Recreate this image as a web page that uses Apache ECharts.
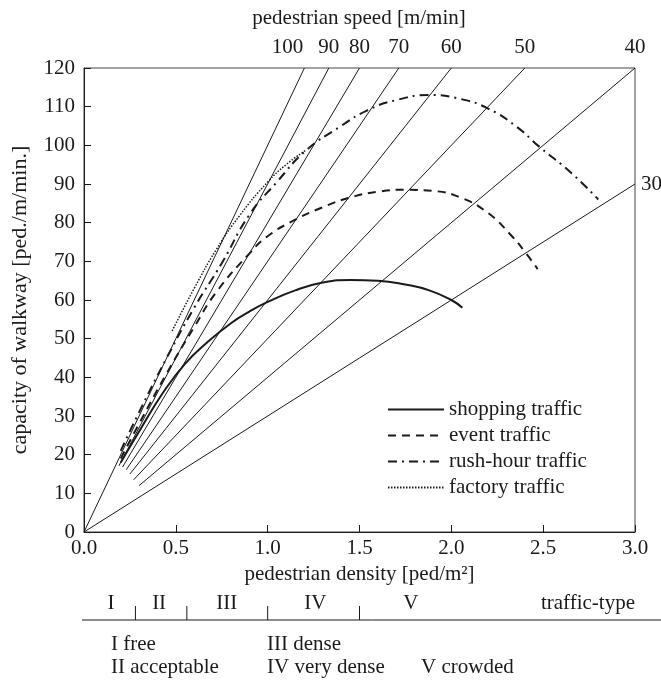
<!DOCTYPE html>
<html><head><meta charset="utf-8">
<script src="https://cdn.jsdelivr.net/npm/echarts@6/dist/echarts.min.js"></script>
<style>html,body{margin:0;padding:0;background:#fff}#c{width:661px;height:681px}</style>
</head><body><div id="c"></div>
<script>
// ---- data ----
const speeds = [100, 90, 80, 70, 60, 50, 40, 30];
const speedLineStart = [[0,0],[0.19,17.1],[0.21,16.8],[0.23,16.1],[0.25,15],[0.27,13.5],[0.30,12],[0,0]];
const speedLineEnd = [[1.2,120],[1.333,120],[1.5,120],[1.714,120],[2.0,120],[2.4,120],[3.0,120],[3.0,90]];

const shoppingDensity = [0.2,0.3,0.43,0.55,0.67,0.8,0.9,1.0,1.15,1.3,1.45,1.6,1.75,1.88,2.0,2.06];
const shoppingCapacity = [18,26,36,43.5,49,54,57,59.5,62.5,64.5,65.2,65,64,62.5,60,58];

const eventDensity = [0.2,0.3,0.45,0.6,0.72,0.9,1.0,1.14,1.3,1.45,1.6,1.75,1.9,2.05,2.2,2.32,2.4,2.47];
const eventCapacity = [19,28,41,53,62,72,76.5,80.5,84,86.5,88,88.5,88.2,86.5,82.5,77,72.5,68];

const rushDensity = [0.2,0.3,0.45,0.6,0.75,0.9,1.05,1.21,1.4,1.54,1.7,1.88,2.05,2.2,2.35,2.48,2.65,2.8];
const rushCapacity = [21,31,45,58,69.5,82,90.5,98.7,105,109,111.7,113,112,109.5,105,99.6,93,86];

const factoryDensity = [0.48,0.6,0.72,0.85,1.0,1.1,1.21];
const factoryCapacity = [52,63,73,82,90.5,95,98.8];

const classBounds = [0.28, 0.56, 1.0, 1.5];
const classNames = ['I','II','III','IV','V'];
const classPos = [0.147, 0.409, 0.777, 1.26, 1.78];
const classLegend = [['I free','II acceptable'],['III dense','IV very dense'],['','V crowded']];

// ---- chart ----
const FONT = '"Liberation Serif","Times New Roman",serif';
const FS = 21;
const INK = '#1a1a1a';
const chart = echarts.init(document.getElementById('c'));
const zip = (a,b) => a.map((v,i)=>[v,b[i]]);

const series = [];
speeds.forEach((v,i)=>{
  series.push({type:'line', name:'v'+v, data:[speedLineStart[i], speedLineEnd[i]], symbol:'none',
    lineStyle:{color:INK,width:1}, silent:true, z:2, xAxisIndex:0, yAxisIndex:0});
});
series.push({type:'scatter', name:'speedLabels', symbolSize:0, xAxisIndex:0, yAxisIndex:0,
  itemStyle:{opacity:1},
  data: speeds.map((v,i)=>({value:speedLineEnd[i], label:
    i===7 ? {position:'right', distance:6} :
    (i===0 ? {position:'top', distance:10, offset:[-17,0]} : {position:'top', distance:10})})),
  label:{show:true, formatter:p=>String(speeds[p.dataIndex]), fontFamily:FONT, fontSize:FS, color:INK}
});
const curveDefs = [
  ['shopping traffic', zip(shoppingDensity, shoppingCapacity), {type:'solid', width:2}],
  ['event traffic', zip(eventDensity, eventCapacity), {type:[8,6], width:2}],
  ['rush-hour traffic', zip(rushDensity, rushCapacity), {type:[9,5,2,5], width:2}],
  ['factory traffic', zip(factoryDensity, factoryCapacity), {type:[1.5,1.5], width:1.5}]
];
curveDefs.forEach(c=>{
  series.push({type:'line', name:c[0], data:c[1], smooth:true, symbol:'none', z:3,
    lineStyle:Object.assign({color:INK}, c[2]), itemStyle:{color:INK}, xAxisIndex:0, yAxisIndex:0});
});
// traffic-type band
classBounds.forEach(b=>{
  series.push({type:'line', data:[[b,0],[b,1]], symbol:'none', lineStyle:{color:INK,width:1},
    xAxisIndex:1, yAxisIndex:1, silent:true});
});
series.push({type:'scatter', symbolSize:0, xAxisIndex:1, yAxisIndex:1, itemStyle:{opacity:1},
  data: classPos.map((p,i)=>[p,1.2]),
  label:{show:true, position:'top', distance:-11, formatter:p=>classNames[p.dataIndex], fontFamily:FONT, fontSize:FS, color:INK}
});
series.push({type:'scatter', symbolSize:0, xAxisIndex:1, yAxisIndex:1, itemStyle:{opacity:1},
  data: [[3.0,1.2]],
  label:{show:true, position:'left', distance:0, formatter:'traffic-type', fontFamily:FONT, fontSize:FS, color:INK}
});

const graphics = [
  {type:'line', shape:{x1:82,y1:620,x2:661,y2:620}, style:{stroke:INK, lineWidth:1}},
  {type:'text', x:359, y:18, style:{text:'pedestrian speed [m/min]', font:FS+'px '+FONT, fill:INK, align:'center', verticalAlign:'middle'}}
];
const colX = [111, 267, 421];
classLegend.forEach((col,ci)=>{
  col.forEach((t,ri)=>{
    if(!t) return;
    graphics.push({type:'text', x:colX[ci], y:[644,667][ri], style:{text:t, font:FS+'px '+FONT, fill:INK, verticalAlign:'middle'}});
  });
});

chart.setOption({
  animation:false,
  textStyle:{fontFamily:FONT},
  grid:[
    {left:84, right:26, top:68, bottom:149, show:true, borderColor:'#444', borderWidth:1, backgroundColor:'transparent'},
    {left:84, right:26, top:592, height:28}
  ],
  xAxis:[
    {type:'value', gridIndex:0, min:0, max:3, interval:0.5,
      axisLine:{show:true, lineStyle:{color:INK}}, splitLine:{show:false},
      axisTick:{show:true, inside:true, length:7, lineStyle:{color:INK}},
      axisLabel:{formatter:v=>v.toFixed(1), fontFamily:FONT, fontSize:FS, color:INK, margin:6},
      name:'pedestrian density [ped/m²]', nameLocation:'middle', nameGap:32,
      nameTextStyle:{fontFamily:FONT, fontSize:FS, color:INK}},
    {type:'value', gridIndex:1, min:0, max:3, show:false}
  ],
  yAxis:[
    {type:'value', gridIndex:0, min:0, max:120, interval:10,
      axisLine:{show:true, lineStyle:{color:INK}}, splitLine:{show:false},
      axisTick:{show:true, inside:true, length:7, lineStyle:{color:INK}},
      axisLabel:{fontFamily:FONT, fontSize:FS, color:INK, margin:9},
      name:'capacity of walkway [ped./m/min.]', nameLocation:'middle', nameGap:53,
      nameTextStyle:{fontFamily:FONT, fontSize:22, color:INK}},
    {type:'value', gridIndex:1, min:0, max:2, show:false}
  ],
  legend:{
    data:curveDefs.map(c=>c[0]), orient:'vertical', left:387, top:399, itemGap:5, padding:0,
    itemWidth:56, itemHeight:14, textStyle:{fontFamily:FONT, fontSize:FS, color:INK},
    itemStyle:{opacity:0}, selectedMode:false
  },
  graphic:graphics,
  series:series
});
</script></body></html>
